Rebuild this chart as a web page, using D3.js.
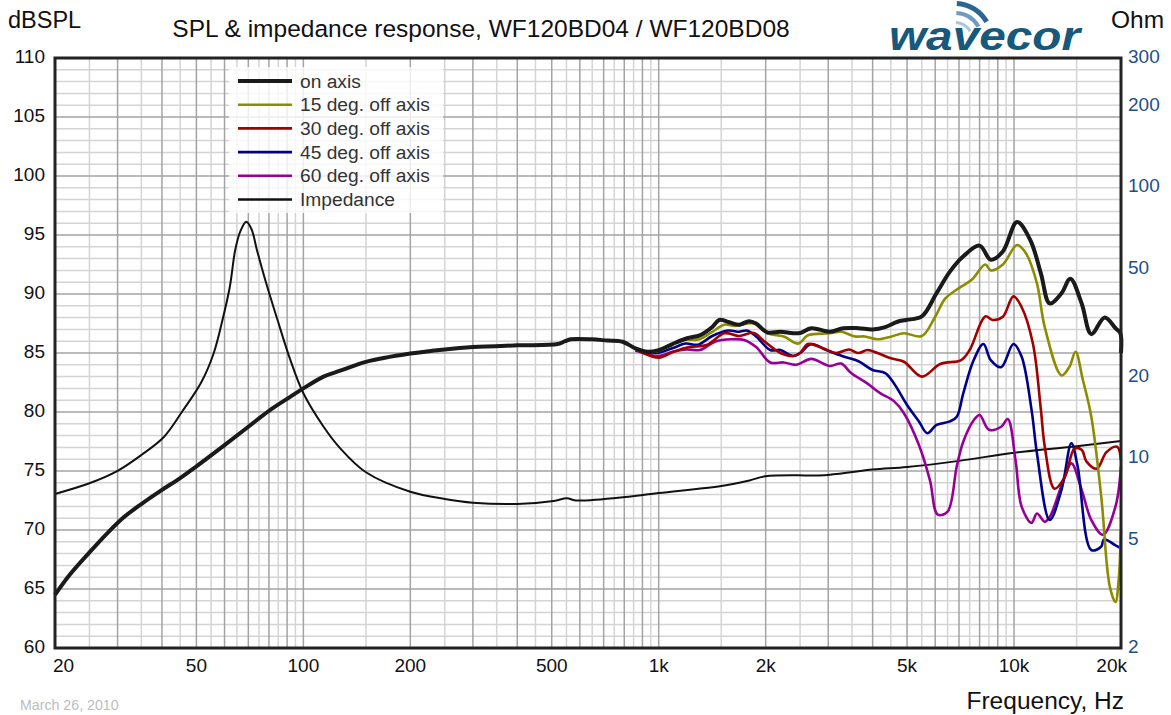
<!DOCTYPE html>
<html>
<head>
<meta charset="utf-8">
<script src="https://cdn.jsdelivr.net/npm/d3@7"></script>
<style>
  body { margin: 0; background: #fff; }
  text { font-family: "Liberation Sans", Arial, sans-serif; }
</style>
</head>
<body>
<svg id="chart" width="1171" height="715"></svg>
<script>
// ---- data ----
const freqTicks = [20, 50, 100, 200, 500, 1000, 2000, 5000, 10000, 20000]
const freqTickLabels = ["20", "50", "100", "200", "500", "1k", "2k", "5k", "10k", "20k"]
const splTicks = [60, 65, 70, 75, 80, 85, 90, 95, 100, 105, 110]
const ohmTicks = [2, 5, 10, 20, 50, 100, 200, 300]

const onAxisFreq = [20, 22, 25, 28, 31, 35, 40, 45, 50, 60, 70, 80, 92, 100, 114, 127, 150, 200, 250, 300, 400, 520, 545, 565, 648, 718, 791, 860, 930, 1000, 1093, 1202, 1305, 1415, 1480, 1580, 1685, 1795, 1880, 2020, 2200, 2390, 2500, 2690, 3030, 3310, 3650, 4000, 4340, 4700, 4970, 5500, 6050, 6600, 7200, 8000, 8600, 9300, 10200, 11100, 11900, 12600, 13600, 14400, 15500, 16500, 18000, 19300, 19900, 20000]
const onAxisDb = [64.5, 66.2, 68.1, 69.7, 71.0, 72.2, 73.4, 74.4, 75.4, 77.2, 78.75, 80.1, 81.3, 82.0, 83.0, 83.5, 84.25, 84.95, 85.3, 85.5, 85.65, 85.76, 86.0, 86.16, 86.16, 86.05, 85.95, 85.4, 85.1, 85.25, 85.76, 86.25, 86.5, 87.2, 87.8, 87.6, 87.4, 87.7, 87.5, 86.75, 86.8, 86.67, 86.7, 87.1, 86.8, 87.1, 87.1, 87.0, 87.2, 87.65, 87.8, 88.1, 90.06, 91.9, 93.2, 94.1, 92.9, 93.6, 96.1, 94.6, 91.75, 89.2, 90.06, 91.3, 89.2, 86.6, 88.0, 87.1, 86.7, 85.0]

const off15Freq = [860, 975, 1060, 1150, 1300, 1415, 1530, 1640, 1850, 2020, 2250, 2470, 2630, 3030, 3260, 3570, 3800, 4130, 4520, 4900, 5500, 6000, 6400, 7000, 7600, 8300, 8600, 9300, 10200, 10800, 11600, 12200, 13600, 14300, 14900, 15600, 16500, 17600, 18600, 19300, 19700, 20000]
const off15Db = [85.3, 85.1, 85.5, 86.1, 86.16, 86.8, 87.4, 87.3, 87.5, 86.67, 86.4, 85.8, 86.5, 86.67, 86.8, 86.4, 86.4, 86.16, 86.4, 86.67, 86.44, 88.07, 89.6, 90.5, 91.2, 92.5, 92.0, 92.5, 94.15, 93.45, 90.9, 87.2, 83.1, 83.8, 85.1, 82.8, 79.6, 72.8, 65.2, 63.9, 65.8, 70.0]

const off30Freq = [860, 1000, 1100, 1220, 1370, 1530, 1685, 1850, 1980, 2200, 2390, 2500, 2630, 2900, 3150, 3430, 3650, 3870, 4130, 4500, 4900, 5500, 6200, 7100, 7500, 8300, 8700, 9300, 9960, 10500, 11300, 11900, 12200, 13000, 13900, 14800, 15500, 16000, 17100, 18200, 19500, 20000]
const off30Db = [85.3, 84.6, 85.1, 85.5, 85.7, 86.67, 86.44, 86.7, 86.0, 85.0, 84.75, 85.0, 85.76, 85.4, 85.0, 85.3, 85.0, 85.25, 85.0, 84.55, 84.26, 83.0, 84.07, 84.4, 85.25, 88.1, 87.8, 88.07, 89.8, 88.9, 85.8, 80.2, 77.1, 73.5, 74.5, 76.9, 76.8, 75.8, 75.2, 76.6, 77.06, 75.9]

const off45Freq = [860, 985, 1093, 1190, 1290, 1415, 1570, 1685, 1770, 1880, 2060, 2200, 2390, 2500, 2690, 2960, 3310, 3650, 4000, 4340, 4600, 5000, 5400, 5700, 6050, 6600, 6900, 7200, 7700, 8200, 8600, 9200, 9960, 10500, 11200, 11600, 12600, 13600, 14500, 15100, 16500, 17600, 17900, 19300, 20000]
const off45Db = [85.25, 85.0, 85.4, 85.8, 85.7, 86.44, 86.9, 86.8, 86.9, 86.4, 85.25, 85.25, 84.75, 85.0, 85.76, 85.25, 84.7, 84.3, 83.56, 83.3, 82.4, 80.6, 79.2, 78.2, 78.9, 79.2, 79.6, 81.6, 84.4, 85.76, 84.4, 83.8, 85.76, 84.7, 80.2, 76.5, 70.85, 73.4, 77.35, 75.4, 68.3, 68.6, 69.2, 68.7, 68.45]

const off60Freq = [860, 1000, 1093, 1200, 1305, 1440, 1600, 1740, 1880, 2060, 2250, 2440, 2690, 3030, 3260, 3480, 3870, 4200, 4600, 4900, 5400, 5800, 6100, 6500, 6900, 7200, 7700, 8000, 8500, 9200, 9600, 10100, 10500, 11200, 11600, 12200, 12600, 13700, 14500, 15500, 16500, 17800, 19300, 20000]
const off60Db = [85.2, 84.75, 85.1, 85.3, 85.25, 85.96, 86.16, 86.1, 85.5, 84.2, 84.2, 84.0, 84.5, 83.9, 84.1, 83.3, 82.4, 81.6, 80.9, 79.9, 77.2, 74.2, 71.3, 71.55, 75.4, 77.5, 79.3, 79.75, 78.5, 78.75, 79.4, 75.9, 72.0, 70.6, 71.4, 70.7, 71.1, 74.0, 75.65, 73.4, 70.85, 69.6, 72.0, 75.4]

const impFreq = [20, 25, 30, 35, 40.5, 45.6, 51.7, 55.9, 59.2, 62.1, 64.3, 66.5, 69.1, 71.5, 74, 78.6, 84.6, 91.9, 100, 114, 127, 150, 200, 250, 300, 400, 506, 552, 584, 824, 1000, 1500, 1800, 2000, 3000, 4000, 5000, 7000, 10000, 15000, 20000]
const impOhm = [7.4, 8.1, 9.0, 10.3, 12.0, 14.9, 19.2, 24.4, 32.4, 43, 58.8, 69, 74.7, 70, 58.8, 44.3, 32.4, 23.1, 17.4, 13.1, 10.9, 8.9, 7.54, 7.09, 6.87, 6.8, 6.97, 7.13, 7.0, 7.23, 7.46, 7.92, 8.3, 8.6, 8.7, 9.1, 9.3, 9.8, 10.5, 11.1, 11.6]

const legendNames = ["on axis", "15 deg. off axis", "30 deg. off axis", "45 deg. off axis", "60 deg. off axis", "Impedance"]
const legendColors = ["#1a1a1a", "#8c8c00", "#a00000", "#00008c", "#960096", "#111111"]

// ---- layout ----
const svg = d3.select("#chart")
const mLeft = 55, mRight = 1121, mTop = 58, mBottom = 648

const x = d3.scaleLog().domain([20, 20000]).range([mLeft, mRight])
const y = d3.scaleLinear().domain([60, 110]).range([mBottom, mTop])
const yOhm = d3.scaleLog().domain([2, 300]).range([mBottom, mTop])

// grid
var vLines = []
;[10, 100, 1000, 10000].forEach(function(dec) {
	for (var m = 1; m < 10; m += 0.5) {
		var f = m * dec
		if (f > 20 && f < 20000) vLines.push({f: f, major: m % 1 == 0})
	}
})
var hLines = d3.range(61, 110).map(d => ({v: d, major: d % 5 == 0}))

const grid = svg.append("g")
grid.selectAll(".hminor")
	.data(hLines.filter(d => !d.major))
	.enter().append("line")
	.attr("x1", mLeft).attr("x2", mRight)
	.attr("y1", d => y(d.v)).attr("y2", d => y(d.v))
	.attr("stroke", "#d4d4d4").attr("stroke-width", 1.5)
grid.selectAll(".vminor")
	.data(vLines.filter(d => !d.major))
	.enter().append("line")
	.attr("x1", d => x(d.f)).attr("x2", d => x(d.f))
	.attr("y1", mTop).attr("y2", mBottom)
	.attr("stroke", "#d4d4d4").attr("stroke-width", 1.5)
grid.selectAll(".hmajor")
	.data(hLines.filter(d => d.major))
	.enter().append("line")
	.attr("x1", mLeft).attr("x2", mRight)
	.attr("y1", d => y(d.v)).attr("y2", d => y(d.v))
	.attr("stroke", "#a3a3a3").attr("stroke-width", 1.5)
grid.selectAll(".vmajor")
	.data(vLines.filter(d => d.major))
	.enter().append("line")
	.attr("x1", d => x(d.f)).attr("x2", d => x(d.f))
	.attr("y1", mTop).attr("y2", mBottom)
	.attr("stroke", "#a3a3a3").attr("stroke-width", 1.5)

// curves
const smooth = d3.curveCatmullRom.alpha(0.5)
const splLine = d3.line().x(d => x(d[0])).y(d => y(d[1])).curve(smooth)
const ohmLine = d3.line().x(d => x(d[0])).y(d => yOhm(d[1])).curve(smooth)

const plot = svg.append("g")
plot.append("path").datum(d3.zip(impFreq, impOhm))
	.attr("d", ohmLine).attr("fill", "none").attr("stroke", legendColors[5]).attr("stroke-width", 2)

var series = [
	[off60Freq, off60Db, legendColors[4]],
	[off45Freq, off45Db, legendColors[3]],
	[off30Freq, off30Db, legendColors[2]],
	[off15Freq, off15Db, legendColors[1]]
]
series.forEach(function(s) {
	plot.append("path").datum(d3.zip(s[0], s[1]))
		.attr("d", splLine).attr("fill", "none")
		.attr("stroke", s[2]).attr("stroke-width", 2.6)
		.attr("stroke-linejoin", "round")
})
plot.append("path").datum(d3.zip(onAxisFreq, onAxisDb))
	.attr("d", splLine).attr("fill", "none")
	.attr("stroke", legendColors[0]).attr("stroke-width", 4)
	.attr("stroke-linejoin", "round")

// frame
svg.append("rect")
	.attr("x", mLeft).attr("y", mTop)
	.attr("width", mRight - mLeft).attr("height", mBottom - mTop)
	.attr("fill", "none").attr("stroke", "#222").attr("stroke-width", 3)

// axis labels
svg.append("g").selectAll("text")
	.data(splTicks).enter().append("text")
	.attr("x", 45).attr("y", d => y(d) + 5)
	.attr("text-anchor", "end")
	.attr("font-size", 19).attr("fill", "#111")
	.text(d => d)

svg.append("g").selectAll("text")
	.data(ohmTicks).enter().append("text")
	.attr("x", 1128).attr("y", d => yOhm(d) + 5)
	.attr("text-anchor", "start")
	.attr("font-size", 19).attr("fill", "#1c4f8a")
	.text(d => d)

svg.append("g").selectAll("text")
	.data(freqTicks).enter().append("text")
	.attr("x", function(d, i) {
		if (i == 0) return x(d) - 2
		if (i == freqTicks.length - 1) return x(d) + 6
		return x(d)
	})
	.attr("y", 672)
	.attr("text-anchor", function(d, i) {
		if (i == 0) return "start"
		if (i == freqTicks.length - 1) return "end"
		return "middle"
	})
	.attr("font-size", 19).attr("fill", "#111")
	.text((d, i) => freqTickLabels[i])

svg.append("text").attr("x", 8).attr("y", 28)
	.attr("font-size", 23.5).attr("fill", "#111").text("dBSPL")
svg.append("text").attr("x", 1111).attr("y", 28)
	.attr("font-size", 24.5).attr("fill", "#111").text("Ohm")
svg.append("text").attr("x", 481).attr("y", 37)
	.attr("text-anchor", "middle")
	.attr("font-size", 24.5).attr("fill", "#111")
	.text("SPL & impedance response, WF120BD04 / WF120BD08")
svg.append("text").attr("x", 1124).attr("y", 709)
	.attr("text-anchor", "end")
	.attr("font-size", 24.5).attr("fill", "#111").text("Frequency, Hz")
svg.append("text").attr("x", 20).attr("y", 710)
	.attr("font-size", 14.2).attr("fill", "#bdbdbd").text("March 26, 2010")

// logo
const logo = svg.append("g")
logo.append("text").attr("x", 889).attr("y", 50)
	.attr("font-size", 40).attr("font-style", "italic").attr("font-weight", "bold")
	.attr("fill", "#17597d")
	.attr("textLength", 191).attr("lengthAdjust", "spacingAndGlyphs")
	.text("wavecor")
var arcColors = ["#a9c6dc", "#6d9cbf", "#2a6690"]
arcColors.forEach(function(c, i) {
	var r = 16 + i * 9
	logo.append("path")
		.attr("d", d3.arc()({innerRadius: r, outerRadius: r + 3 + i, startAngle: 0.05, endAngle: 1.05}))
		.attr("transform", "translate(955,40)")
		.attr("fill", c)
})

// legend
const legend = svg.append("g")
legend.append("rect")
	.attr("x", 229).attr("y", 67)
	.attr("width", 214).attr("height", 146)
	.attr("fill", "#fff").attr("opacity", 0.8)
legendNames.forEach(function(name, i) {
	var ly = 81 + i * 23.7
	legend.append("line")
		.attr("x1", 238).attr("x2", 292)
		.attr("y1", ly).attr("y2", ly)
		.attr("stroke", legendColors[i])
		.attr("stroke-width", i == 0 ? 4 : 2.6)
	legend.append("text")
		.attr("x", 300).attr("y", ly + 6.5)
		.attr("font-size", 19.2).attr("fill", "#333")
		.text(name)
})
</script>
</body>
</html>
